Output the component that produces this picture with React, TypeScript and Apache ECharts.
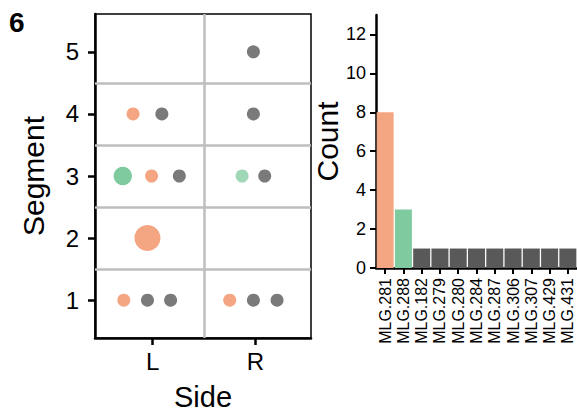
import React, { useEffect, useRef } from "react";
import * as echarts from "echarts";

// ---- Data ----
const sideLabels = ["L", "R"];
const segmentTicks = [1, 2, 3, 4, 5];

// scatter points (one per MLG occurrence cell)
const pointSide = ["L", "L", "L", "L", "L", "L", "L", "L", "L", "R", "R", "R", "R", "R", "R", "R"];
const pointSegment = [4, 4, 3, 3, 3, 2, 1, 1, 1, 5, 4, 3, 3, 1, 1, 1];
const pointGroup = [
  "MLG.281", "MLG.182", "MLG.288", "MLG.281", "MLG.279", "MLG.281", "MLG.281", "MLG.280", "MLG.284",
  "MLG.287", "MLG.306", "MLG.288", "MLG.307", "MLG.281", "MLG.429", "MLG.431",
];
const pointCount = [1, 1, 2, 1, 1, 4, 1, 1, 1, 1, 1, 1, 1, 1, 1, 1];
const pointDodge = [-0.19, 0.09, -0.29, -0.01, 0.26, -0.05, -0.28, -0.05, 0.175, -0.02, -0.02, -0.13, 0.09, -0.25, -0.02, 0.21];

// bar chart
const mlgCategories = [
  "MLG.281", "MLG.288", "MLG.182", "MLG.279", "MLG.280", "MLG.284",
  "MLG.287", "MLG.306", "MLG.307", "MLG.429", "MLG.431",
];
const mlgCounts = [8, 3, 1, 1, 1, 1, 1, 1, 1, 1, 1];
const countTicks = [0, 2, 4, 6, 8, 10, 12];

const ORANGE = "#F4A582";
const GREEN = "#7FCA9F";
const DARK = "#595959";
const FONT = "Liberation Sans, Arial, sans-serif";

function groupColor(g: string) {
  if (g === "MLG.281") return ORANGE;
  if (g === "MLG.288") return GREEN;
  return DARK;
}

export default function App() {
  const ref = useRef<HTMLDivElement>(null);
  useEffect(() => {
    if (!ref.current) return;
    const chart = echarts.init(ref.current, null, { renderer: "svg" });

    const scatterData = pointSide.map((s, i) => {
      const g = pointGroup[i];
      let color = groupColor(g);
      let opacity = 1;
      if (color === DARK) { color = "#7a7a7a"; }
      if (g === "MLG.288" && pointCount[i] === 1) opacity = 0.75;
      return {
        value: [sideLabels.indexOf(s) + 1 + pointDodge[i], pointSegment[i], pointCount[i]],
        symbolSize: 13 * Math.sqrt(pointCount[i]),
        itemStyle: { color, opacity },
      };
    });

    const option: any = {
      animation: false,
      textStyle: { fontFamily: FONT },
      graphic: [
        {
          type: "text",
          left: 9,
          top: 8,
          style: { text: "6", font: "bold 28px " + FONT, fill: "#000" },
        },
      ],
      grid: [
        { left: 95, top: 14, width: 216, height: 325, show: true, borderColor: "#000", borderWidth: 1.5, backgroundColor: "transparent" },
        { left: 376, top: 15, width: 201, height: 253 },
      ],
      xAxis: [
        {
          gridIndex: 0,
          type: "value",
          min: 0.44,
          max: 2.54,
          name: "Side",
          nameLocation: "middle",
          nameGap: 44,
          nameTextStyle: { fontSize: 29, color: "#000", fontFamily: FONT },
          axisLine: { show: true, lineStyle: { color: "#000", width: 2.5 } },
          axisTick: { show: true, length: 7, lineStyle: { color: "#000", width: 2.5 }, customValues: [1, 2] },
          axisLabel: {
            customValues: [1, 2],
            formatter: (v: number) => sideLabels[Math.round(v) - 1] ?? "",
            fontSize: 24,
            color: "#000",
            margin: 11,
            fontFamily: FONT,
          },
          splitLine: { show: false },
        },
        {
          gridIndex: 1,
          type: "category",
          data: mlgCategories,
          axisLine: { show: true, lineStyle: { color: "#000", width: 2.5 } },
          axisTick: { show: true, alignWithLabel: true, length: 6, lineStyle: { color: "#000", width: 2 } },
          axisLabel: { rotate: 90, interval: 0, fontSize: 16, color: "#000", margin: 10, fontFamily: FONT },
        },
      ],
      yAxis: [
        {
          gridIndex: 0,
          type: "value",
          min: 0.39,
          max: 5.61,
          name: "Segment",
          nameLocation: "middle",
          nameGap: 47,
          nameTextStyle: { fontSize: 30, color: "#000", fontFamily: FONT },
          axisLine: { show: true, lineStyle: { color: "#000", width: 2.5 } },
          axisTick: { show: true, length: 7, lineStyle: { color: "#000", width: 2.5 }, customValues: segmentTicks },
          axisLabel: { customValues: segmentTicks, fontSize: 24, color: "#000", margin: 16, fontFamily: FONT },
          splitLine: { show: false },
        },
        {
          gridIndex: 1,
          type: "value",
          min: 0,
          max: 13,
          name: "Count",
          nameLocation: "middle",
          nameGap: 33,
          nameTextStyle: { fontSize: 30, color: "#000", fontFamily: FONT },
          axisLine: { show: true, lineStyle: { color: "#000", width: 2.5 } },
          axisTick: { show: true, length: 6, lineStyle: { color: "#000", width: 2 }, customValues: countTicks },
          axisLabel: { customValues: countTicks, fontSize: 18, color: "#000", margin: 10, fontFamily: FONT },
          splitLine: { show: false },
        },
      ],
      series: [
        {
          type: "scatter",
          xAxisIndex: 0,
          yAxisIndex: 0,
          data: scatterData,
          z: 3,
          markLine: {
            silent: true,
            symbol: ["none", "none"],
            label: { show: false },
            lineStyle: { color: "#bebebe", width: 2.5, type: "solid" },
            data: [{ yAxis: 1.5 }, { yAxis: 2.5 }, { yAxis: 3.5 }, { yAxis: 4.5 }, { xAxis: 1.5 }],
          },
        },
        {
          type: "bar",
          xAxisIndex: 1,
          yAxisIndex: 1,
          barCategoryGap: "7%",
          data: mlgCounts.map((v, i) => ({ value: v, itemStyle: { color: groupColor(mlgCategories[i]) } })),
        },
      ],
    };
    chart.setOption(option);
    return () => chart.dispose();
  }, []);
  return <div ref={ref} style={{ position: "absolute", left: 0, top: 0, width: 577, height: 416 }} />;
}
